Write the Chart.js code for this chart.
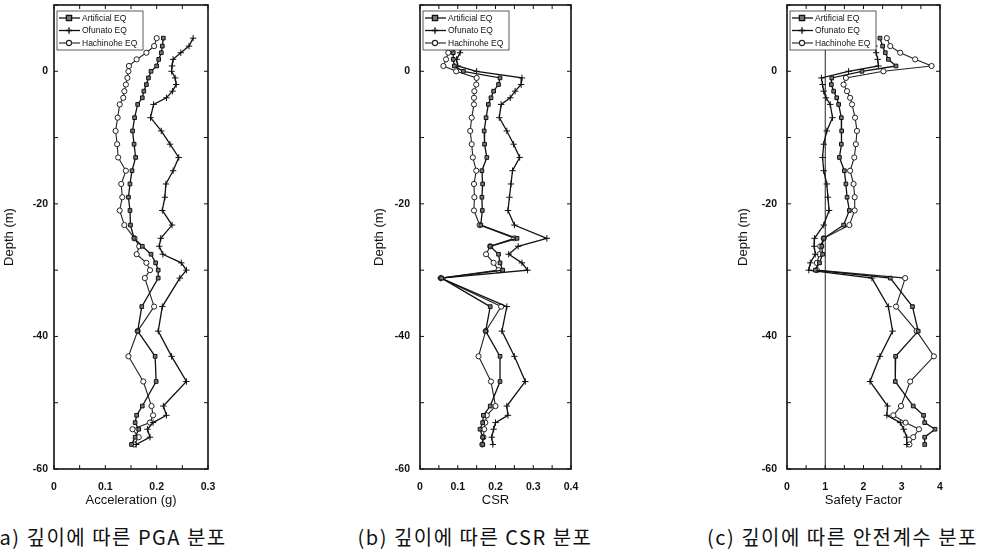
<!DOCTYPE html>
<html>
<head>
<meta charset="utf-8">
<script src="https://cdn.jsdelivr.net/npm/chart.js@4.4.0/dist/chart.umd.min.js"></script>
<style>
  body { margin: 0; background: #fff; width: 987px; height: 551px; overflow: hidden; position: relative; }
  canvas { position: absolute; top: 0; }
  .cap { position: absolute; top: 522px; height: 30px; line-height: 30px; font-family: "Noto Sans CJK KR", sans-serif;
         font-size: 20px; color: #111; text-align: center; white-space: nowrap; letter-spacing: 1.5px; }
</style>
</head>
<body>
<canvas id="pga"></canvas>
<canvas id="csr"></canvas>
<canvas id="sf"></canvas>
<div class="cap" style="left:-16px;width:250px;">(a) 깊이에 따른 PGA 분포</div>
<div class="cap" style="left:345px;width:260px;">(b) 깊이에 따른 CSR 분포</div>
<div class="cap" style="left:695px;width:295px;">(c) 깊이에 따른 안전계수 분포</div>
<script>
// depth of each layer (m)
var depth = [5, 3.8, 2.8, 1.8, 0.8, 0, -1, -2, -3, -4, -5, -7, -9, -11, -13, -15, -17, -19, -21, -23.2,
             -25.2, -26.4, -27.6, -28.9, -30, -31.2, -35.5, -39.2, -43, -46.8, -50.5, -51.9, -53, -54, -55.2, -56.3];

var seriesNames = ['Artificial EQ', 'Ofunato EQ', 'Hachinohe EQ'];

// (a) PGA (g)
var pgaArtificial = [0.213, 0.211, 0.209, 0.204, 0.2, 0.189, 0.184, 0.18, 0.175, 0.172, 0.163, 0.157, 0.153, 0.156, 0.159, 0.152, 0.148, 0.145, 0.148, 0.149,
                     0.156, 0.172, 0.189, 0.198, 0.203, 0.203, 0.171, 0.163, 0.197, 0.199, 0.172, 0.161, 0.158, 0.165, 0.158, 0.151];
var pgaOfunato = [0.271, 0.263, 0.247, 0.232, 0.23, 0.229, 0.236, 0.238, 0.231, 0.219, 0.194, 0.188, 0.209, 0.226, 0.243, 0.232, 0.218, 0.216, 0.211, 0.23,
                  0.208, 0.205, 0.212, 0.248, 0.258, 0.245, 0.211, 0.203, 0.229, 0.258, 0.213, 0.219, 0.193, 0.182, 0.187, 0.16];
var pgaHachinohe = [0.2, 0.195, 0.18, 0.161, 0.146, 0.145, 0.143, 0.14, 0.137, 0.135, 0.128, 0.124, 0.12, 0.123, 0.125, 0.14, 0.131, 0.133, 0.128, 0.137,
                    0.157, 0.166, 0.161, 0.18, 0.187, 0.177, 0.195, 0.163, 0.145, 0.174, 0.19, 0.193, 0.187, 0.153, 0.165, 0.156];

// (b) CSR
var csrArtificial = [0.093, 0.091, 0.088, 0.088, 0.091, 0.115, 0.212, 0.208, 0.195, 0.188, 0.181, 0.175, 0.17, 0.171, 0.177, 0.164, 0.166, 0.164, 0.165, 0.161,
                     0.257, 0.186, 0.208, 0.212, 0.219, 0.057, 0.186, 0.174, 0.212, 0.212, 0.186, 0.168, 0.166, 0.159, 0.166, 0.166];
var csrOfunato = [0.117, 0.113, 0.106, 0.097, 0.1, 0.15, 0.27, 0.268, 0.252, 0.239, 0.215, 0.21, 0.23, 0.248, 0.264, 0.245, 0.241, 0.237, 0.233, 0.25,
                  0.336, 0.26, 0.235, 0.27, 0.285, 0.055, 0.23, 0.217, 0.25, 0.279, 0.23, 0.233, 0.2, 0.195, 0.19, 0.193];
var csrHachinohe = [0.084, 0.08, 0.075, 0.069, 0.062, 0.096, 0.15, 0.149, 0.144, 0.143, 0.143, 0.137, 0.133, 0.137, 0.14, 0.149, 0.143, 0.144, 0.143, 0.158,
                    0.25, 0.186, 0.175, 0.195, 0.208, 0.055, 0.215, 0.174, 0.155, 0.188, 0.2, 0.177, 0.173, 0.17, 0.168, 0.165];

// (c) safety factor
var sfArtificial = [2.43, 2.5, 2.57, 2.65, 2.85, 1.96, 1.17, 1.16, 1.22, 1.3, 1.35, 1.42, 1.43, 1.42, 1.37, 1.5, 1.54, 1.57, 1.63, 1.48,
                    0.96, 0.91, 0.93, 0.85, 0.74, 2.7, 3.28, 3.43, 2.84, 2.83, 3.3, 3.57, 3.6, 3.87, 3.6, 3.6];
var sfOfunato = [2.2, 2.29, 2.33, 2.37, 2.39, 1.61, 0.9, 0.93, 0.96, 1.02, 1.13, 1.19, 1.04, 0.96, 0.93, 0.96, 1.04, 1.07, 1.1, 0.96,
                 0.72, 0.71, 0.74, 0.61, 0.57, 2.22, 2.65, 2.76, 2.43, 2.17, 2.63, 2.61, 2.96, 3.05, 3.13, 3.13];
var sfHachinohe = [2.61, 2.7, 2.96, 3.35, 3.78, 2.52, 1.54, 1.48, 1.57, 1.65, 1.7, 1.78, 1.83, 1.8, 1.76, 1.65, 1.74, 1.77, 1.77, 1.63,
                   0.96, 0.87, 0.85, 0.78, 0.78, 3.09, 2.85, 3.39, 3.84, 3.22, 2.98, 2.78, 3.1, 3.45, 3.3, 3.2];
var sfLimit = [1];

var depthTicks = [-60, 10];

var styles = [
  { pointStyle: 'rect', pointRadius: 2.6, pointBackgroundColor: '#777', borderColor: '#111', borderWidth: 1.3 },
  { pointStyle: 'cross', pointRadius: 3.2, pointBackgroundColor: '#111', borderColor: '#111', borderWidth: 1.3 },
  { pointStyle: 'circle', pointRadius: 2.6, pointBackgroundColor: '#fff', borderColor: '#222', borderWidth: 1.1 }
];

// frame, inward ticks on four sides, boxed legend inside the plot
var decor = {
  id: 'decor',
  afterDraw: function(chart) {
    var ctx = chart.ctx, a = chart.chartArea;
    var xs = chart.scales.x, ys = chart.scales.y;
    ctx.save();
    ctx.strokeStyle = '#111';
    ctx.lineWidth = 1;
    xs.ticks.forEach(function(t) {
      var px = xs.getPixelForValue(t.value);
      ctx.beginPath();
      ctx.moveTo(px, a.bottom); ctx.lineTo(px, a.bottom - 4);
      ctx.moveTo(px, a.top); ctx.lineTo(px, a.top + 4);
      ctx.stroke();
    });
    ys.ticks.forEach(function(t) {
      var py = ys.getPixelForValue(t.value);
      ctx.beginPath();
      ctx.moveTo(a.left, py); ctx.lineTo(a.left + 4, py);
      ctx.moveTo(a.right, py); ctx.lineTo(a.right - 4, py);
      ctx.stroke();
    });
    ctx.lineWidth = 1.6;
    ctx.strokeRect(a.left, a.top, a.right - a.left, a.bottom - a.top);

    // legend
    var bx = a.left + 3, by = a.top + 6, bw = 86, bh = 39;
    ctx.fillStyle = '#fff';
    ctx.fillRect(bx, by, bw, bh);
    ctx.lineWidth = 0.8;
    ctx.strokeStyle = '#333';
    ctx.strokeRect(bx, by, bw, bh);
    ctx.font = '8.5px "Liberation Sans", Arial, sans-serif';
    ctx.textBaseline = 'middle';
    var row = 0;
    chart.data.datasets.forEach(function(ds) {
      if (ds.noLegend) return;
      var y = by + 7 + row * 12.5;
      ctx.strokeStyle = ds.borderColor;
      ctx.lineWidth = ds.borderWidth;
      ctx.beginPath();
      ctx.moveTo(bx + 2, y); ctx.lineTo(bx + 23, y);
      ctx.stroke();
      var cx = bx + 12, r = ds.pointRadius;
      ctx.fillStyle = ds.pointBackgroundColor;
      if (ds.pointStyle === 'rect') {
        ctx.fillRect(cx - r, y - r, 2 * r, 2 * r);
        ctx.strokeRect(cx - r, y - r, 2 * r, 2 * r);
      } else if (ds.pointStyle === 'circle') {
        ctx.beginPath(); ctx.arc(cx, y, r, 0, Math.PI * 2); ctx.fill(); ctx.stroke();
      } else {
        ctx.beginPath();
        ctx.moveTo(cx - r, y); ctx.lineTo(cx + r, y);
        ctx.moveTo(cx, y - r); ctx.lineTo(cx, y + r);
        ctx.stroke();
      }
      ctx.fillStyle = '#111';
      ctx.fillText(ds.label, bx + 25, y + 0.5);
      row++;
    });
    ctx.restore();
  }
};

function noPad(s) { s.paddingTop = 0; s.paddingBottom = 0; s.paddingLeft = 0; s.paddingRight = 0; }

function makePanel(id, canvasLeft, plotLeft, plotRight, xMax, minorStep, labelStep, xTitle, tickPad, series, limit) {
  var cv = document.getElementById(id);
  var w = plotRight + 14 - canvasLeft;
  cv.width = w; cv.height = 511;
  cv.style.left = canvasLeft + 'px';
  cv.style.width = w + 'px'; cv.style.height = '511px';

  var datasets = series.map(function(vals, k) {
    var ds = {
      label: seriesNames[k],
      data: depth.map(function(d, i) { return { x: vals[i], y: d }; }),
      showLine: true,
      pointBorderColor: styles[k].borderColor,
      pointBorderWidth: 1,
      pointHoverRadius: styles[k].pointRadius
    };
    for (var key in styles[k]) ds[key] = styles[k][key];
    return ds;
  });
  if (limit) {
    datasets.push({
      label: 'FS = 1', noLegend: true, showLine: true, pointRadius: 0,
      borderColor: '#222', borderWidth: 1,
      data: depthTicks.map(function(d) { return { x: limit[0], y: d }; })
    });
  }

  var tickFont = { family: '"Liberation Sans", Arial, sans-serif', size: 10.5, weight: 'bold' };
  var titleFont = { family: '"Liberation Sans", Arial, sans-serif', size: 13 };

  new Chart(cv.getContext('2d'), {
    type: 'scatter',
    data: { datasets: datasets },
    options: {
      responsive: false,
      animation: false,
      devicePixelRatio: 1,
      layout: { padding: { top: 5, right: 14, left: 0, bottom: 0 } },
      plugins: { legend: { display: false }, tooltip: { enabled: false } },
      scales: {
        x: {
          type: 'linear', min: 0, max: xMax,
          grid: { display: false, drawTicks: false }, border: { display: false },
          ticks: {
            stepSize: minorStep, color: '#111', font: tickFont, padding: 12, maxRotation: 0, autoSkip: false,
            callback: function(v) {
              var q = v / labelStep;
              if (Math.abs(q - Math.round(q)) > 1e-6) return '';
              return String(labelStep >= 1 ? Math.round(v) : Math.round(v * 10) / 10);
            }
          },
          title: { display: true, text: xTitle, color: '#111', font: titleFont, padding: { top: 0, bottom: 3 } },
          afterFit: function(s) { s.height = 42; noPad(s); }
        },
        y: {
          type: 'linear', min: depthTicks[0], max: depthTicks[1],
          grid: { display: false, drawTicks: false }, border: { display: false },
          ticks: {
            stepSize: 10, color: '#111', font: tickFont, padding: tickPad, autoSkip: false,
            callback: function(v) { return (v <= 0 && v % 20 === 0) ? String(v) : ''; }
          },
          title: { display: true, text: 'Depth (m)', color: '#111', font: titleFont, padding: 4 },
          afterFit: function(s) { s.width = plotLeft - canvasLeft; noPad(s); }
        }
      }
    },
    plugins: [decor]
  });
}

makePanel('pga', -2, 54, 208, 0.3, 0.05, 0.1, 'Acceleration (g)', 6, [pgaArtificial, pgaOfunato, pgaHachinohe]);
makePanel('csr', 368, 420, 571, 0.4, 0.05, 0.1, 'CSR', 10, [csrArtificial, csrOfunato, csrHachinohe]);
makePanel('sf', 732, 787, 940, 4, 0.5, 1, 'Safety Factor', 10, [sfArtificial, sfOfunato, sfHachinohe], sfLimit);
</script>
</body>
</html>
